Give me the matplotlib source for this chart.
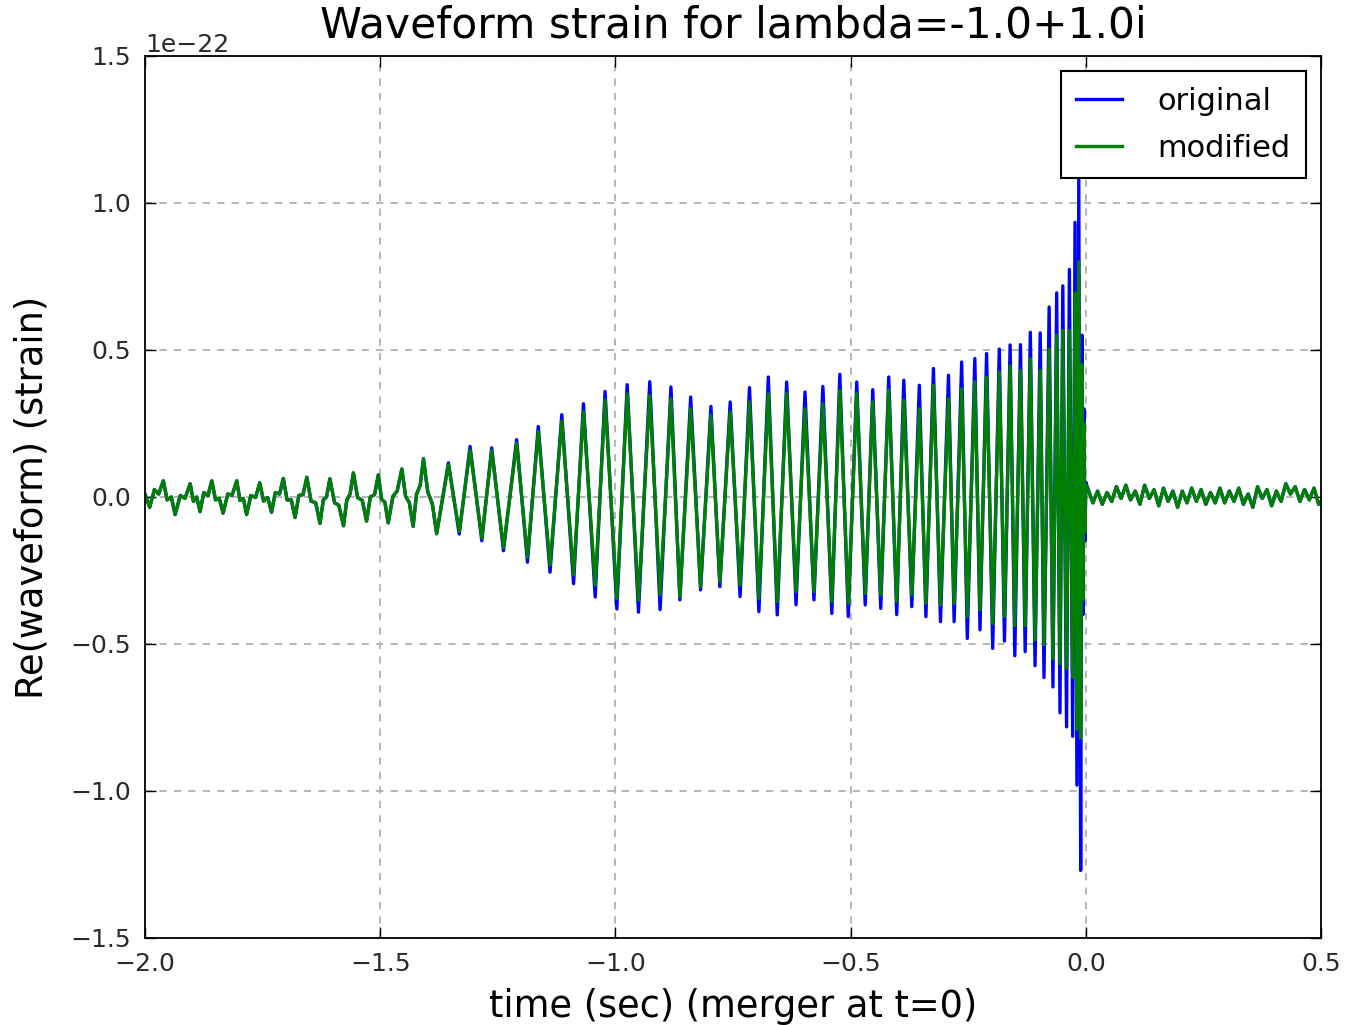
import numpy as np
import matplotlib
matplotlib.use("Agg")
import matplotlib.pyplot as plt

# early inspiral, both waveforms overlap (strain in units of 1e-22)
t_early = [-2.000, -1.990, -1.980, -1.971, -1.961, -1.953, -1.944, -1.936, -1.925, -1.915,
           -1.904, -1.897, -1.890, -1.883, -1.875, -1.866, -1.858, -1.850, -1.842, -1.834,
           -1.824, -1.815, -1.805, -1.798, -1.791, -1.784, -1.775, -1.765, -1.756, -1.748,
           -1.739, -1.731, -1.723, -1.714, -1.706, -1.698, -1.689, -1.681, -1.673, -1.664,
           -1.656, -1.647, -1.637, -1.628, -1.621, -1.614, -1.607, -1.597, -1.588, -1.578,
           -1.571, -1.564, -1.557, -1.548, -1.538, -1.529, -1.521, -1.512, -1.504, -1.497,
           -1.490, -1.483, -1.473, -1.464, -1.454, -1.446, -1.438, -1.430, -1.423, -1.415,
           -1.408, -1.399, -1.389, -1.380]
h_early = [0.010, -0.035, 0.025, 0.010, 0.055, -0.010, 0.000, -0.060, 0.005, -0.005,
           0.045, -0.015, 0.000, -0.050, 0.015, 0.005, 0.055, -0.010, -0.005, -0.055,
           0.010, 0.005, 0.055, -0.012, -0.005, -0.060, 0.005, -0.002, 0.048, -0.014,
           -0.002, -0.052, 0.015, 0.010, 0.063, -0.010, -0.010, -0.070, 0.005, 0.008,
           0.067, -0.014, -0.020, -0.090, -0.010, 0.000, 0.062, -0.020, -0.028, -0.098,
           -0.010, 0.010, 0.082, -0.002, -0.012, -0.082, 0.000, 0.008, 0.075, -0.008,
           -0.018, -0.088, 0.002, 0.020, 0.095, 0.002, -0.020, -0.100, 0.008, 0.040,
           0.130, 0.018, -0.025, -0.125]

# chirp up to merger: times of extrema
t_chirp = [-1.355, -1.332, -1.309, -1.284, -1.263, -1.238, -1.210, -1.187, -1.164, -1.139,
           -1.114, -1.089, -1.068, -1.043, -1.022, -0.997, -0.975, -0.951, -0.927, -0.905,
           -0.882, -0.863, -0.840, -0.819, -0.797, -0.778, -0.756, -0.735, -0.715, -0.695,
           -0.675, -0.656, -0.636, -0.616, -0.597, -0.578, -0.559, -0.540, -0.523, -0.505,
           -0.487, -0.469, -0.453, -0.436, -0.419, -0.402, -0.387, -0.370, -0.354, -0.340,
           -0.324, -0.309, -0.292, -0.280, -0.264, -0.252, -0.236, -0.225, -0.211, -0.198,
           -0.184, -0.173, -0.161, -0.151, -0.139, -0.129, -0.118, -0.108, -0.097, -0.089,
           -0.078, -0.070, -0.062, -0.055, -0.049, -0.041, -0.035, -0.028, -0.023, -0.019,
           -0.015, -0.011, -0.008, -0.006, -0.004, -0.002, 0.000]
h_orig = [0.116, -0.126, 0.172, -0.149, 0.167, -0.183, 0.195, -0.222, 0.240, -0.256,
          0.280, -0.295, 0.317, -0.340, 0.359, -0.381, 0.382, -0.392, 0.392, -0.383,
          0.374, -0.350, 0.340, -0.316, 0.308, -0.305, 0.323, -0.339, 0.372, -0.390,
          0.408, -0.401, 0.391, -0.367, 0.357, -0.350, 0.376, -0.396, 0.417, -0.407,
          0.391, -0.367, 0.365, -0.379, 0.408, -0.400, 0.397, -0.373, 0.380, -0.407,
          0.437, -0.424, 0.414, -0.424, 0.459, -0.481, 0.471, -0.452, 0.488, -0.515,
          0.503, -0.490, 0.517, -0.540, 0.518, -0.526, 0.560, -0.574, 0.558, -0.614,
          0.646, -0.646, 0.694, -0.734, 0.718, -0.782, 0.774, -0.814, 0.934, -0.980,
          1.080, -1.270, 0.550, -0.400, 0.300, -0.150, 0.050]
h_mod = [0.110, -0.118, 0.160, -0.140, 0.158, -0.172, 0.183, -0.205, 0.222, -0.232,
         0.258, -0.265, 0.290, -0.300, 0.330, -0.345, 0.350, -0.350, 0.345, -0.333,
         0.334, -0.339, 0.300, -0.305, 0.278, -0.288, 0.289, -0.299, 0.323, -0.345,
         0.351, -0.356, 0.351, -0.322, 0.300, -0.322, 0.317, -0.356, 0.363, -0.362,
         0.351, -0.328, 0.323, -0.333, 0.363, -0.355, 0.329, -0.333, 0.300, -0.362,
         0.380, -0.367, 0.334, -0.362, 0.368, -0.407, 0.391, -0.384, 0.408, -0.430,
         0.425, -0.406, 0.446, -0.438, 0.430, -0.438, 0.470, -0.486, 0.430, -0.502,
         0.502, -0.550, 0.550, -0.566, 0.566, -0.582, 0.566, -0.614, 0.694, -0.790,
         0.800, -0.820, 0.450, -0.350, 0.250, -0.120, 0.040]

# post-merger noise, both waveforms overlap
t_post = [0.005, 0.015, 0.025, 0.035, 0.045, 0.055, 0.065, 0.075, 0.085, 0.095,
          0.105, 0.115, 0.125, 0.135, 0.145, 0.155, 0.165, 0.175, 0.185, 0.195,
          0.205, 0.215, 0.225, 0.235, 0.245, 0.255, 0.265, 0.275, 0.285, 0.295,
          0.305, 0.315, 0.325, 0.335, 0.345, 0.355, 0.365, 0.375, 0.385, 0.395,
          0.405, 0.415, 0.425, 0.435, 0.445, 0.455, 0.465, 0.475, 0.485, 0.495, 0.500]
h_post = [0.025, -0.020, 0.020, -0.025, 0.015, -0.015, 0.035, -0.005, 0.040, -0.010,
          0.020, -0.025, 0.040, -0.005, 0.025, -0.030, 0.030, -0.015, 0.020, -0.035,
          0.020, -0.020, 0.030, -0.015, 0.025, -0.025, 0.015, -0.020, 0.030, -0.020,
          0.020, -0.015, 0.030, -0.025, 0.010, -0.035, 0.035, -0.005, 0.025, -0.030,
          0.020, -0.015, 0.045, 0.010, 0.035, -0.015, 0.025, -0.010, 0.030, -0.025, -0.015]

t = np.concatenate([t_early, t_chirp, t_post])
orig = np.concatenate([h_early, h_orig, h_post]) * 1e-22
mod = np.concatenate([h_early, h_mod, h_post]) * 1e-22

plt.rcParams['font.family'] = 'DejaVu Sans'
fig = plt.figure(figsize=(13.45, 10.25), dpi=100)
ax = fig.add_axes([0.1078, 0.0849, 0.8744, 0.8605])

ax.plot(t, orig, color=(0, 0, 1), lw=2.4, label='original')
ax.plot(t, mod, color=(0, 0.5, 0), lw=2.4, label='modified')

ax.set_xlim(-2.0, 0.5)
ax.set_ylim(-1.5e-22, 1.5e-22)
ax.set_xticks([-2.0, -1.5, -1.0, -0.5, 0.0, 0.5])
ax.set_yticks(np.array([-1.5, -1.0, -0.5, 0.0, 0.5, 1.0, 1.5]) * 1e-22)
ax.grid(True, ls='--', color='#b0b0b0', lw=1.3, dashes=(4, 4))
ax.tick_params(direction='in', top=True, right=True, length=8, width=1,
               labelsize=18, pad=10, labelcolor='#2a2a2a')
ax.yaxis.get_offset_text().set_fontsize(18)
for s in ax.spines.values():
    s.set_linewidth(1.3)

ax.set_title('Waveform strain for lambda=-1.0+1.0i', fontsize=30.5, pad=13)
ax.set_xlabel('time (sec) (merger at t=0)', fontsize=26.5, labelpad=9)
ax.set_ylabel('Re(waveform) (strain)', fontsize=26.5, labelpad=14)

leg = ax.legend(loc='upper right', fontsize=22, fancybox=False, framealpha=1,
                edgecolor='black', borderpad=0.5, labelspacing=0.6,
                handlelength=1.5, handletextpad=1.15, borderaxespad=0.5)
leg.get_frame().set_linewidth(1.5)

fig.savefig('out.png', dpi=100)
